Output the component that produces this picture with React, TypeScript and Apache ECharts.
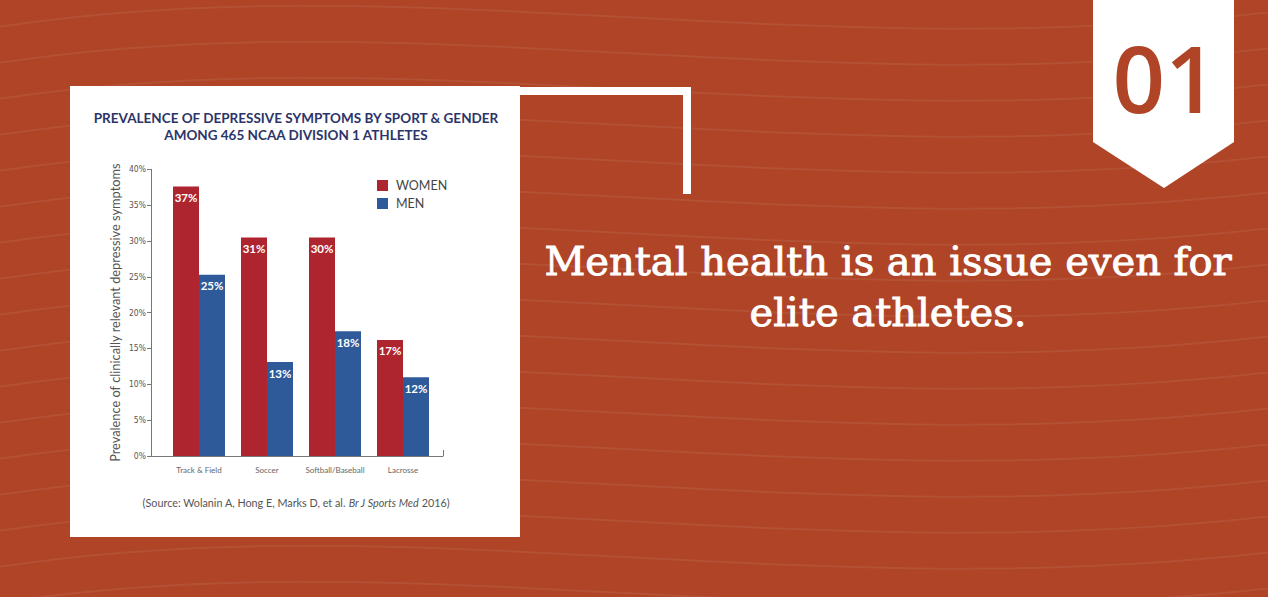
import React, { useEffect, useRef } from "react";
import * as echarts from "echarts";

const categories = ["Track & Field", "Soccer", "Softball/Baseball", "Lacrosse"];
const womenValues = [37.6, 30.5, 30.5, 16.2];
const menValues = [25.3, 13.1, 17.4, 11.0];
const womenLabels = ["37%", "31%", "30%", "17%"];
const menLabels = ["25%", "13%", "18%", "12%"];
const yTicks = { min: 0, max: 40, interval: 5 };

const chartTitle = "PREVALENCE OF DEPRESSIVE SYMPTOMS BY SPORT & GENDER\nAMONG 465 NCAA DIVISION 1 ATHLETES";
const yAxisName = "Prevalence of clinically relevant depressive symptoms";
const headline = "Mental health is an issue even for\nelite athletes.";

const BG = "#AF4426";
const RED = "#AF252F";
const BLUE = "#2F5A9A";
const NAVY = "#2C3468";

export default function App() {
  const ref = useRef<HTMLDivElement>(null);
  useEffect(() => {
    if (!ref.current) return;
    const chart = echarts.init(ref.current, undefined, { renderer: "svg" });

    const waves: any[] = [];
    for (let i = -2; i < 18; i++) {
      const y = i * 36;
      waves.push({
        type: "bezierCurve",
        silent: true,
        z: -9,
        shape: {
          x1: -20, y1: y + 30,
          x2: 1290, y2: y + 10,
          cpx1: 400, cpy1: y - 40,
          cpx2: 800, cpy2: y + 70,
        },
        style: { stroke: "rgba(255,255,255,0.07)", lineWidth: 2, fill: null },
      });
    }

    chart.setOption({
      animation: false,
      graphic: [
        { type: "rect", z: -10, silent: true, shape: { x: 0, y: 0, width: 1268, height: 597 }, style: { fill: BG } },
        ...waves,
        { type: "rect", z: -5, shape: { x: 70, y: 86, width: 450, height: 451 }, style: { fill: "#ffffff" } },
        { type: "rect", z: -5, shape: { x: 520, y: 87, width: 171, height: 8 }, style: { fill: "#ffffff" } },
        { type: "rect", z: -5, shape: { x: 683, y: 87, width: 8, height: 107 }, style: { fill: "#ffffff" } },
        {
          type: "polygon", z: -5,
          shape: { points: [[1093, 0], [1234, 0], [1234, 142], [1164, 188], [1093, 142]] },
          style: { fill: "#ffffff" },
        },
        {
          type: "text", z: -4, x: 1165, y: 123,
          style: { text: "01", fill: BG, font: "600 92px 'Open Sans', sans-serif", textAlign: "center", textVerticalAlign: "bottom" },
        },
        {
          type: "text", z: -4, x: 888, y: 286,
          style: {
            text: headline, fill: "#ffffff", font: "40px 'DejaVu Serif', serif",
            stroke: "#ffffff", lineWidth: 0.9,
            textAlign: "center", textVerticalAlign: "middle", lineHeight: 51,
          },
        },
        {
          type: "text", z: -4, x: 296, y: 126,
          style: {
            text: chartTitle, fill: NAVY, font: "bold 13.5px Lato, sans-serif",
            textAlign: "center", textVerticalAlign: "middle", lineHeight: 17,
          },
        },
        {
          type: "text", z: -4, x: 296, y: 502,
          style: {
            text: "{n|(Source: Wolanin A, Hong E, Marks D, et al. }{i|Br J Sports Med}{n| 2016)}",
            textAlign: "center", textVerticalAlign: "middle",
            rich: {
              n: { fontFamily: "Lato, sans-serif", fontSize: 10.8, fill: "#555" },
              i: { fontFamily: "Lato, sans-serif", fontSize: 10.8, fontStyle: "italic", fill: "#555" },
            },
          },
        },
      ],
      legend: {
        orient: "vertical",
        left: 377,
        top: 179,
        padding: 0,
        itemWidth: 11,
        itemHeight: 11,
        itemGap: 5,
        icon: "rect",
        textStyle: { color: "#444", fontSize: 12.5, fontFamily: "Lato, sans-serif", padding: [0, 0, 0, 3] },
        data: ["WOMEN", "MEN"],
      },
      grid: [
        { left: 151, top: 169.3, width: 292, height: 286.7 },
        { left: 165, top: 169.3, width: 272, height: 286.7 },
      ],
      xAxis: [
        {
          gridIndex: 0, type: "value", min: 0, max: 1, interval: 1,
          axisLine: { show: true, lineStyle: { color: "#777", width: 1 } },
          axisTick: { show: true, inside: true, length: 6, lineStyle: { color: "#777" } },
          axisLabel: { show: false }, splitLine: { show: false },
        },
        {
          gridIndex: 1, type: "category", data: categories,
          axisLine: { show: false }, axisTick: { show: false },
          axisLabel: { interval: 0, color: "#666", fontSize: 8, fontFamily: "Lato, sans-serif", margin: 10 },
        },
      ],
      yAxis: [
        {
          gridIndex: 0, type: "value", min: yTicks.min, max: yTicks.max, interval: yTicks.interval,
          name: yAxisName, nameLocation: "middle", nameGap: 30,
          nameTextStyle: { color: "#555", fontSize: 12.8, fontFamily: "Lato, sans-serif" },
          axisLine: { show: true, lineStyle: { color: "#777" } },
          axisTick: { show: true, length: 4, lineStyle: { color: "#777" } },
          axisLabel: { formatter: "{value}%", color: "#555", fontSize: 8.5, fontFamily: "'Liberation Sans Narrow', 'DejaVu Sans Condensed', sans-serif", margin: 5 },
          splitLine: { show: false },
        },
        {
          gridIndex: 1, type: "value", min: yTicks.min, max: yTicks.max, show: false,
          splitLine: { show: false },
        },
      ],
      series: [
        {
          name: "WOMEN", type: "bar", xAxisIndex: 1, yAxisIndex: 1,
          data: womenValues, barWidth: 26, barGap: "0%",
          itemStyle: { color: RED },
          label: {
            show: true, position: "insideTop", distance: 5,
            formatter: (p: any) => womenLabels[p.dataIndex],
            color: "#fff", fontWeight: "bold", fontSize: 11.5, fontFamily: "Lato, sans-serif",
          },
        },
        {
          name: "MEN", type: "bar", xAxisIndex: 1, yAxisIndex: 1,
          data: menValues, barWidth: 26,
          itemStyle: { color: BLUE },
          label: {
            show: true, position: "insideTop", distance: 5,
            formatter: (p: any) => menLabels[p.dataIndex],
            color: "#fff", fontWeight: "bold", fontSize: 11.5, fontFamily: "Lato, sans-serif",
          },
        },
      ],
    });
    return () => chart.dispose();
  }, []);
  return <div ref={ref} style={{ position: "absolute", left: 0, top: 0, width: 1268, height: 597 }} />;
}
